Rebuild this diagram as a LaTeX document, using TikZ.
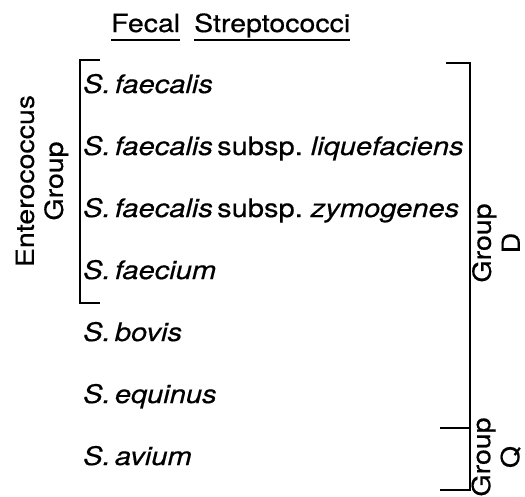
\documentclass[tikz,border=0pt]{standalone}
\usepackage{fontspec}
\setmainfont{TeX Gyre Heros}[FakeStretch=1.14, FakeBold=0.5]
\usepackage{tikz}
\usetikzlibrary{positioning}
\frenchspacing

\begin{document}
\begin{tikzpicture}[
  x=1pt, y=-1pt,
  species/.style={anchor=base west, inner sep=0pt, font=\fontsize{25.5}{30}\selectfont},
  head/.style={anchor=base west, inner sep=0pt, font=\fontsize{25}{30}\selectfont},
  side/.style={rotate=90, align=center, inner sep=0pt, font=\fontsize{25}{29}\selectfont},
  brk/.style={line width=1.8pt},
]
  \useasboundingbox (0,0) rectangle (525,496);

  % heading
  \node[head] (fecal) at (111,32) {Fecal};
  \node[head] (strep) at (194,32) {Streptococci};
  \draw[brk] ([yshift=-8pt]fecal.base west) -- ([yshift=-8pt]fecal.base east);
  \draw[brk] ([yshift=-8pt]strep.base west) -- ([yshift=-8pt]strep.base east);

  % species, one row every 62pt
  \node[species] (fae) at (83,93) {\textit{S.\,faecalis}};
  \node[species] (liq) at (83,155) {\textit{S.\,faecalis}\,subsp. \textit{liquefaciens}};
  \node[species] (zym) at (83,217) {\textit{S.\,faecalis}\,subsp. \textit{zymogenes}};
  \node[species] (fcm) at (83,279) {\textit{S.\,faecium}};
  \node[species] (bov) at (83,341) {\textit{S.\,bovis}};
  \node[species] (equ) at (83,403) {\textit{S.\,equinus}};
  \node[species] (avi) at (83,465) {\textit{S.\,avium}};

  % enterococcus bracket
  \draw[brk] (100,60) -- (80,60) -- (80,303) -- (100,303);
  \node[side] (entero) at (42,181) {Enterococcus\\Group};

  % group D and Q brackets
  \draw[brk] (446,63) -- (470,63) -- (470,490) -- (440,490);
  \draw[brk] (440,428) -- (470,428);
  \node[side] (grpd) at (496,243) {Group\\D};
  \node[side] (grpq) at (496,457) {Group\\Q};
\end{tikzpicture}
\end{document}
